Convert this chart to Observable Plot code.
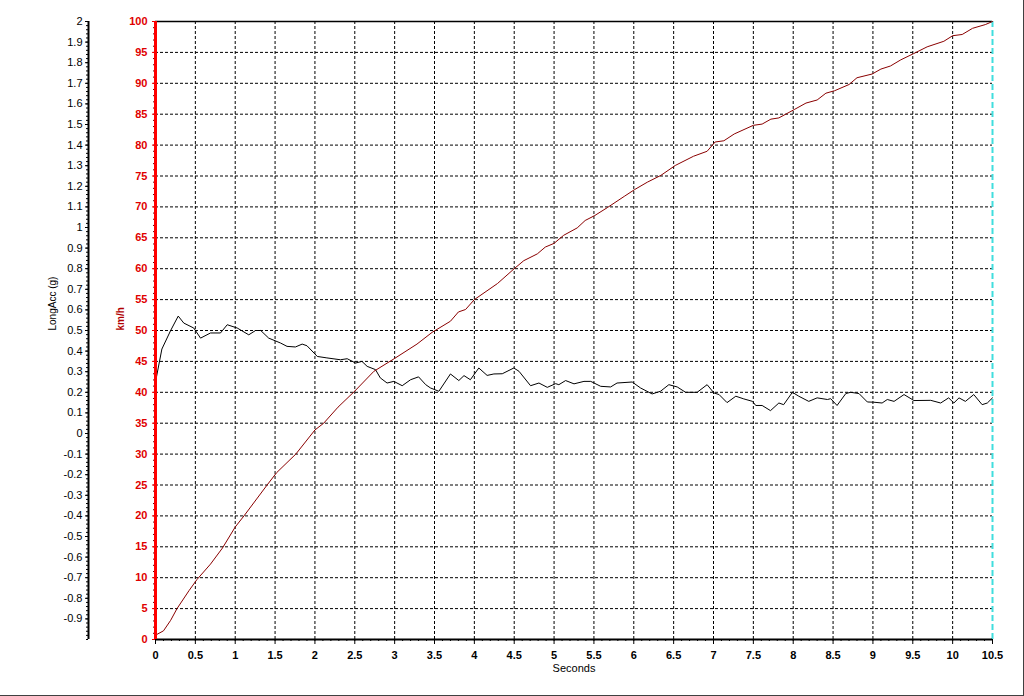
<!DOCTYPE html>
<html>
<head>
<meta charset="utf-8">
<script src="https://cdn.jsdelivr.net/npm/d3@7"></script>
<script src="https://cdn.jsdelivr.net/npm/@observablehq/plot@0.6"></script>
<style>
  html, body { margin: 0; padding: 0; background: #fff; }
</style>
</head>
<body>
<div id="chart"></div>
<script>
// ---- tick labels ----
const xTicks = [0, 0.5, 1, 1.5, 2, 2.5, 3, 3.5, 4, 4.5, 5, 5.5, 6, 6.5, 7, 7.5, 8, 8.5, 9, 9.5, 10, 10.5];
const kmhTicks = [0, 5, 10, 15, 20, 25, 30, 35, 40, 45, 50, 55, 60, 65, 70, 75, 80, 85, 90, 95, 100];
const gTicks = [2, 1.9, 1.8, 1.7, 1.6, 1.5, 1.4, 1.3, 1.2, 1.1, 1, 0.9, 0.8, 0.7, 0.6, 0.5, 0.4, 0.3, 0.2, 0.1, 0,
  -0.1, -0.2, -0.3, -0.4, -0.5, -0.6, -0.7, -0.8, -0.9];
const gDomain = [-1, 2];

// ---- speed (km/h) series ----
const speedT = [0, 0.1, 0.19, 0.27, 0.42, 0.52, 0.69, 0.84, 1.0, 1.11, 1.4, 1.52, 1.76, 2.0, 2.11, 2.29, 2.5, 2.74, 2.99,
  3.28, 3.47, 3.7, 3.8, 3.89, 4.0, 4.29, 4.5, 4.62, 4.79, 4.89, 5.0, 5.12, 5.29, 5.39, 5.51, 5.67, 5.88, 6.01, 6.17,
  6.34, 6.52, 6.75, 6.92, 7.02, 7.13, 7.26, 7.5, 7.61, 7.72, 7.82, 8.02, 8.16, 8.3, 8.41, 8.52, 8.7, 8.8, 8.99, 9.1,
  9.22, 9.35, 9.51, 9.68, 9.89, 10.0, 10.12, 10.25, 10.41, 10.5];
const speedV = [0.7, 1.4, 3.1, 5.0, 7.9, 9.7, 12.2, 14.8, 18.2, 20.0, 25.0, 27.0, 30.0, 33.9, 35.0, 37.6, 40.2, 43.4, 45.4,
  47.8, 49.7, 51.5, 53.0, 53.4, 55.0, 57.6, 60.0, 61.3, 62.4, 63.5, 64.1, 65.4, 66.6, 67.8, 68.6, 69.9, 71.7, 72.8, 74.0,
  75.1, 76.7, 78.2, 79.0, 80.5, 80.7, 81.8, 83.2, 83.4, 84.2, 84.4, 85.8, 86.8, 87.3, 88.4, 88.8, 89.8, 90.9, 91.5, 92.3,
  92.8, 93.8, 94.8, 95.9, 96.8, 97.7, 97.9, 98.9, 99.5, 100];

// ---- longitudinal acceleration (g) series ----
const accT = [0, 0.08, 0.19, 0.285, 0.355, 0.48, 0.565, 0.69, 0.815, 0.9, 1.025, 1.17, 1.255, 1.32, 1.42, 1.57, 1.65, 1.755,
  1.84, 1.9, 2.03, 2.15, 2.32, 2.405, 2.51, 2.59, 2.655, 2.76, 2.82, 2.905, 2.99, 3.095, 3.2, 3.3, 3.39, 3.45, 3.555,
  3.7, 3.805, 3.87, 3.95, 4.056, 4.16, 4.245, 4.35, 4.495, 4.56, 4.705, 4.81, 4.915, 5.02, 5.06, 5.145, 5.25, 5.375,
  5.46, 5.585, 5.71, 5.79, 5.98, 6.085, 6.23, 6.335, 6.44, 6.545, 6.65, 6.795, 6.92, 7.005, 7.07, 7.17, 7.28, 7.38,
  7.49, 7.53, 7.61, 7.715, 7.82, 7.88, 7.99, 8.07, 8.195, 8.3, 8.43, 8.47, 8.55, 8.66, 8.72, 8.825, 8.93, 9.01, 9.115,
  9.18, 9.265, 9.39, 9.515, 9.725, 9.85, 9.95, 10.015, 10.08, 10.16, 10.265, 10.37, 10.435, 10.5];
const accG = [0.25, 0.41, 0.50, 0.57, 0.536, 0.512, 0.463, 0.488, 0.488, 0.528, 0.512, 0.479, 0.5, 0.5, 0.463, 0.439, 0.423, 0.42,
  0.434, 0.426, 0.374, 0.367, 0.358, 0.363, 0.342, 0.35, 0.326, 0.31, 0.27, 0.245, 0.253, 0.232, 0.261, 0.275, 0.237, 0.221, 0.205,
  0.289, 0.257, 0.281, 0.261, 0.318, 0.282, 0.289, 0.29, 0.318, 0.302, 0.232, 0.245, 0.224, 0.242, 0.237, 0.257, 0.241, 0.253,
  0.253, 0.229, 0.226, 0.245, 0.25, 0.221, 0.192, 0.205, 0.237, 0.226, 0.2, 0.2, 0.237, 0.197, 0.189, 0.15, 0.181, 0.168,
  0.156, 0.136, 0.136, 0.111, 0.148, 0.14, 0.2, 0.181, 0.156, 0.173, 0.165, 0.169, 0.136, 0.194, 0.2, 0.194, 0.153, 0.152, 0.148,
  0.165, 0.156, 0.189, 0.16, 0.161, 0.148, 0.173, 0.148, 0.173, 0.156, 0.189, 0.14, 0.148, 0.173];

// g axis shares the km/h scale: map g in [-1, 2] onto km/h [0, 100]
const gToV = g => (g - gDomain[0]) * 100 / (gDomain[1] - gDomain[0]);
const vToG = v => v * (gDomain[1] - gDomain[0]) / 100 + gDomain[0];
const fmtG = v => { const g = Math.round(vToG(v) * 10) / 10; return g === 0 ? "0" : String(g); };

const speed = speedT.map((t, i) => ({t, v: speedV[i]}));
const acc = accT.map((t, i) => ({t, v: gToV(accG[i])}));

const gridXVals = xTicks.filter(d => d > 0 && d < 10.5);
const gridYVals = kmhTicks.filter(d => d > 0 && d < 100);
const minorX = d3.range(0, 106).map(i => i / 10);
const minorV = d3.range(0, 101);
const minorG = d3.range(-50, 101).map(i => gToV(i / 50));

const G_OFFSET = -67; // distance of the g axis from the km/h axis

const chart = Plot.plot({
  width: 1023,
  height: 695,
  marginLeft: 155,
  marginRight: 31,
  marginTop: 21,
  marginBottom: 56,
  x: {domain: [0, 10.5], label: null},
  y: {domain: [0, 100], label: null},
  style: {
    fontFamily: "'Liberation Sans', Arial, sans-serif",
    fontSize: "11px",
    background: "#fff",
    overflow: "visible",
    borderRight: "1px solid #404040",
    borderBottom: "1px solid #404040"
  },
  marks: [
    // dashed grid
    Plot.ruleX(gridXVals, {stroke: "black", strokeWidth: 1, strokeDasharray: "3,2"}),
    Plot.ruleY(gridYVals, {stroke: "black", strokeWidth: 1, strokeDasharray: "3,2"}),
    // top border & right cyan dashed marker
    Plot.ruleY([100], {stroke: "black", strokeWidth: 1.5}),
    Plot.ruleX([10.5], {stroke: "#40dede", strokeWidth: 2, strokeDasharray: "6,3"}),
    // series
    Plot.line(acc, {x: "t", y: "v", stroke: "black", strokeWidth: 1}),
    Plot.line(speed, {x: "t", y: "v", stroke: "#8a0000", strokeWidth: 1}),
    // bottom axis
    Plot.axisX(minorX, {anchor: "bottom", tickSize: 2, tickFormat: () => "", label: null}),
    Plot.axisX(xTicks, {anchor: "bottom", tickSize: 5, tickPadding: 7, tickFormat: d => String(d), label: null, fontWeight: "bold"}),
    Plot.ruleY([0], {stroke: "black", strokeWidth: 2}),
    // km/h axis
    Plot.axisY(minorV, {anchor: "left", tickSize: 2, tickFormat: () => "", label: null, stroke: "#600"}),
    Plot.axisY(kmhTicks, {anchor: "left", tickSize: 3, tickPadding: 5, color: "#e00000", fontWeight: "bold", label: null}),
    Plot.ruleX([0], {stroke: "#ff0000", strokeWidth: 3}),
    // g axis (LongAcc)
    Plot.axisY(minorG, {anchor: "left", dx: G_OFFSET, tickSize: 2, tickFormat: () => "", label: null}),
    Plot.axisY(gTicks.map(gToV), {anchor: "left", dx: G_OFFSET, tickSize: 3, tickPadding: 3, tickFormat: fmtG, label: null}),
    Plot.ruleX([0], {dx: G_OFFSET, stroke: "black", strokeWidth: 2}),
    // axis titles
    Plot.text(["LongAcc (g)"], {text: d => d, frameAnchor: "left", rotate: -90, dx: -103, fontSize: 10, fill: "black"}),
    Plot.text(["km/h"], {text: d => d, frameAnchor: "left", rotate: -90, dx: -35, fontSize: 10, fill: "#b00000", fontWeight: "bold"}),
    Plot.text(["Seconds"], {text: d => d, frameAnchor: "bottom", dy: 32, fontSize: 11, fill: "black"})
  ]
});
document.getElementById("chart").appendChild(chart);
</script>
</body>
</html>
